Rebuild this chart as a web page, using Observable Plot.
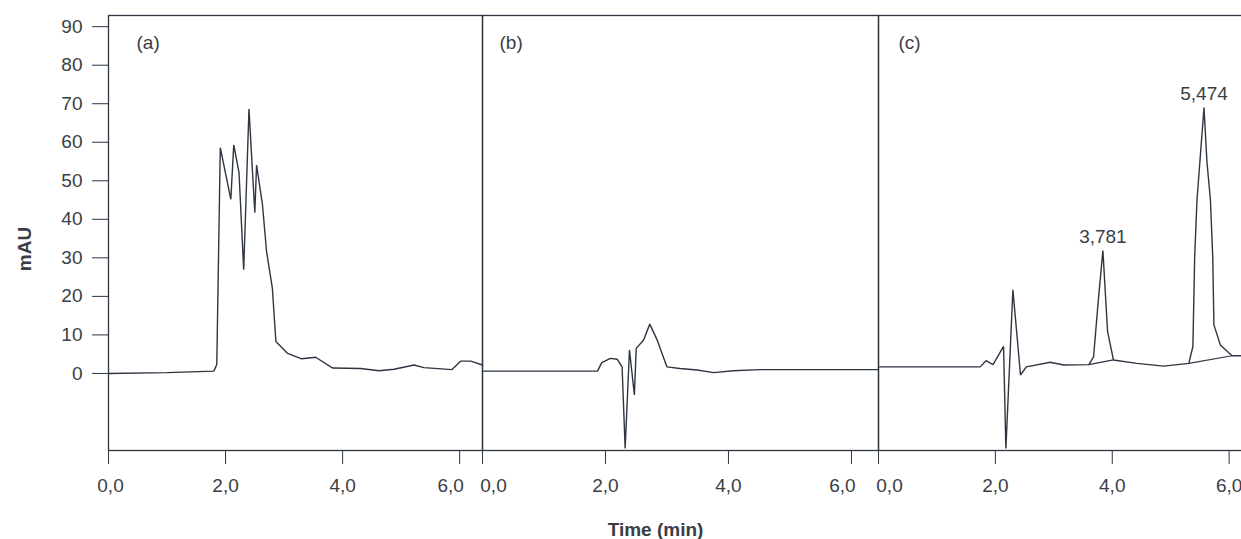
<!DOCTYPE html>
<html><head><meta charset="utf-8">
<script src="https://cdn.jsdelivr.net/npm/d3@7"></script>
<script src="https://cdn.jsdelivr.net/npm/@observablehq/plot@0.6"></script>
<style>
html,body{margin:0;padding:0;background:#fff;overflow:hidden;}
#wrap{position:relative;width:1241px;height:539px;overflow:hidden;}
#wrap > div{position:absolute;top:0;}
#wrap svg{max-width:none !important;overflow:visible !important;background:transparent !important;}
</style></head>
<body><div id="wrap"><div id="pa"></div><div id="pb"></div><div id="pc"></div></div>
<script>
// Panel (a)
const timeA = [0, 1.0, 1.80, 1.85, 1.91, 2.09, 2.14, 2.23, 2.31, 2.40, 2.50, 2.53, 2.63, 2.70, 2.80, 2.86, 3.06, 3.30, 3.54, 3.83, 4.31, 4.62, 4.88, 5.22, 5.39, 5.87, 6.02, 6.19, 6.39];
const mauA  = [0.0, 0.2, 0.6, 2.3, 58.6, 45.2, 59.3, 52.1, 26.9, 68.6, 41.7, 54.1, 43.9, 31.7, 22.1, 8.3, 5.2, 3.8, 4.2, 1.4, 1.3, 0.7, 1.1, 2.2, 1.5, 1.0, 3.2, 3.2, 2.2];
// Panel (b)
const timeB = [0, 1.87, 1.94, 2.08, 2.19, 2.27, 2.32, 2.39, 2.47, 2.50, 2.62, 2.72, 2.84, 3.00, 3.21, 3.49, 3.76, 4.08, 4.52, 5.5, 6.44];
const mauB  = [0.6, 0.6, 2.8, 3.9, 3.7, 1.7, -19.5, 6.1, -5.6, 6.5, 8.7, 12.8, 8.7, 1.7, 1.3, 0.9, 0.2, 0.7, 1.0, 1.0, 1.0];
// Panel (c)
const timeC = [0, 1.74, 1.84, 1.96, 2.14, 2.18, 2.30, 2.43, 2.53, 2.94, 3.17, 3.60, 3.68, 3.76, 3.84, 3.92, 4.02, 4.42, 4.88, 5.31, 5.38, 5.41, 5.45, 5.50, 5.57, 5.62, 5.68, 5.72, 5.74, 5.85, 6.05, 6.40];
const mauC  = [1.7, 1.7, 3.3, 2.3, 7.0, -19.5, 21.7, -0.4, 1.7, 2.9, 2.2, 2.3, 4.3, 18.7, 31.9, 10.9, 3.5, 2.6, 1.9, 2.6, 7.0, 30, 45, 55, 69.0, 55, 45, 30, 12.6, 7.4, 4.6, 4.6];
// Integration baselines under the peaks of (c)
const baseStartT = [3.60, 5.31];
const baseStartV = [2.3, 2.6];
const baseEndT   = [4.02, 6.05];
const baseEndV   = [3.5, 4.6];
// Peak labels in (c)
const peakTimes   = [3.84, 5.57];
const peakHeights = [31.9, 69.0];
const peakNames   = ["3,781", "5,474"];

const panelNames = ["(a)", "(b)", "(c)"];
const xTicks = [0, 2, 4, 6];
const yTicks = [0, 10, 20, 30, 40, 50, 60, 70, 80, 90];
const yLabel = "mAU";
const xLabel = "Time (min)";

const INK = "#2e3642";
const TEXT = "#3b3e45";
const FONT = "'Liberation Sans', Arial, Helvetica, sans-serif";
const FS = 19;
const fmt = d => d.toFixed(1).replace(".", ",");
const yDomain = [-20, 92.9];

function tickLabels(values, dx) {
  return Plot.text(values, {x: d => d, text: fmt, frameAnchor: "bottom", dy: 35, dx, lineAnchor: "middle", textAnchor: "middle", fill: TEXT, fontSize: FS});
}

function panel(t, v, opts) {
  const rows = t.map((ti, i) => ({t: ti, v: v[i]}));
  const marks = [
    Plot.frame({stroke: INK, strokeWidth: 1.3}),
    Plot.axisX(xTicks, {tickSize: 14, tickFormat: () => "", label: null, stroke: INK}),
    tickLabels(xTicks.filter(d => d !== 0 && d !== 6), 0),
    tickLabels([0], opts.dx0),
    tickLabels([6], opts.dx6),
    Plot.line(rows, {x: "t", y: "v", stroke: INK, strokeWidth: 1.4, strokeLinejoin: "miter"}),
    Plot.text([opts.name], {frameAnchor: "top-left", dx: opts.nameDx, dy: 27, textAnchor: "start", lineAnchor: "middle", fill: TEXT, fontSize: FS}),
    ...(opts.extra || [])
  ];
  if (opts.yAxis) {
    marks.push(Plot.axisY(yTicks, {tickSize: 16, tickPadding: 10, label: null, stroke: INK, fill: TEXT, fontSize: FS}));
    marks.push(Plot.text([yLabel], {frameAnchor: "left", dx: -84, dy: 16, rotate: -90, textAnchor: "middle", lineAnchor: "middle", fontWeight: "bold", fontSize: FS, fill: TEXT}));
  }
  return Plot.plot({
    width: opts.width, height: 539,
    marginLeft: opts.marginLeft, marginRight: 0, marginTop: 15, marginBottom: 89,
    x: {domain: [0, opts.xMax]},
    y: {domain: yDomain, ...(opts.yAxis ? {} : {axis: null})},
    style: {background: "transparent", overflow: "visible", fontFamily: FONT, fontSize: FS + "px", color: TEXT, maxWidth: "none"},
    marks
  });
}

const peakRows = peakTimes.map((t, i) => ({t, v: peakHeights[i], name: peakNames[i]}));
const baseRows = baseStartT.map((t, i) => ({t1: t, v1: baseStartV[i], t2: baseEndT[i], v2: baseEndV[i]}));

const pa = panel(timeA, mauA, {name: panelNames[0], nameDx: 28, width: 482, marginLeft: 108, xMax: 6.39, yAxis: true, dx0: 2, dx6: -9});
const pb = panel(timeB, mauB, {name: panelNames[1], nameDx: 17, width: 396, marginLeft: 0, xMax: 6.44, yAxis: false, dx0: 11, dx6: -9,
  extra: [Plot.text([xLabel], {frameAnchor: "bottom", dx: -25, dy: 79, lineAnchor: "middle", fontWeight: "bold", fontSize: FS, fill: TEXT})]});
const pc = panel(timeC, mauC, {name: panelNames[2], nameDx: 20, width: 374, marginLeft: 0, xMax: 6.40, yAxis: false, dx0: 11, dx6: 0,
  extra: [
    Plot.link(baseRows, {x1: "t1", y1: "v1", x2: "t2", y2: "v2", stroke: INK, strokeWidth: 1.2}),
    Plot.text(peakRows, {x: "t", y: "v", text: "name", dy: -8, lineAnchor: "bottom", fontSize: FS, fill: TEXT})
  ]});

const place = (id, el, left, w) => {
  const d = document.getElementById(id);
  d.style.left = left + "px";
  d.style.width = w + "px";
  d.appendChild(el);
};
place("pa", pa, 0, 482);
place("pb", pb, 482, 396);
place("pc", pc, 878, 374);
</script>
</body></html>
